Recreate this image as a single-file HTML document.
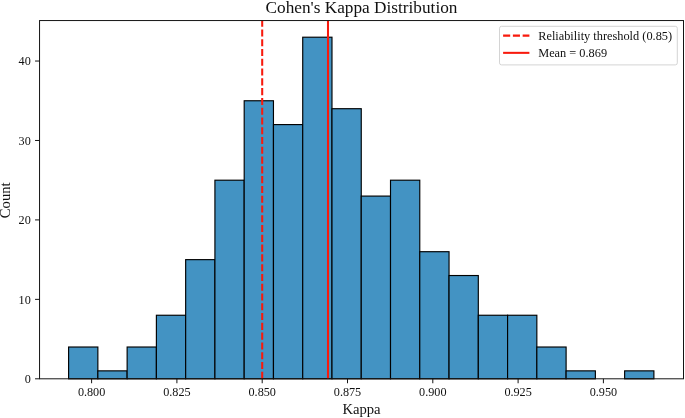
<!DOCTYPE html>
<html lang="en">
<head>
<meta charset="utf-8">
<title>Cohen's Kappa Distribution</title>
<style>
html,body{margin:0;padding:0;background:#fff;}
body{width:685px;height:418px;overflow:hidden;}
svg{display:block;}
svg text{font-family:"Liberation Serif","Times New Roman",serif;fill:#111;}
</style>
</head>
<body>
<svg width="685" height="418" viewBox="0 0 685 418">
<rect x="0" y="0" width="685" height="418" fill="#ffffff"/>
<g fill="#4393c3" stroke="#000000" stroke-width="1.15" stroke-linejoin="miter">
<rect x="68.60" y="347.02" width="29.265" height="31.78"/>
<rect x="97.86" y="370.86" width="29.265" height="7.94"/>
<rect x="127.13" y="347.02" width="29.265" height="31.78"/>
<rect x="156.39" y="315.25" width="29.265" height="63.55"/>
<rect x="185.66" y="259.64" width="29.265" height="119.16"/>
<rect x="214.92" y="180.20" width="29.265" height="198.60"/>
<rect x="244.19" y="100.76" width="29.265" height="278.04"/>
<rect x="273.46" y="124.59" width="29.265" height="254.21"/>
<rect x="302.72" y="37.21" width="29.265" height="341.59"/>
<rect x="331.99" y="108.70" width="29.265" height="270.10"/>
<rect x="361.25" y="196.09" width="29.265" height="182.71"/>
<rect x="390.51" y="180.20" width="29.265" height="198.60"/>
<rect x="419.78" y="251.70" width="29.265" height="127.10"/>
<rect x="449.04" y="275.53" width="29.265" height="103.27"/>
<rect x="478.31" y="315.25" width="29.265" height="63.55"/>
<rect x="507.58" y="315.25" width="29.265" height="63.55"/>
<rect x="536.84" y="347.02" width="29.265" height="31.78"/>
<rect x="566.11" y="370.86" width="29.265" height="7.94"/>
<rect x="624.63" y="370.86" width="29.265" height="7.94"/>
</g>
<line x1="262.20" y1="378.8" x2="262.20" y2="20.55" stroke="#f81a0d" stroke-width="2.05" stroke-dasharray="7.08 2.70"/>
<line x1="328.0" y1="378.8" x2="328.0" y2="20.55" stroke="#f81a0d" stroke-width="2.05"/>
<rect x="39.55" y="20.55" width="643.95" height="358.25" fill="none" stroke="#141414" stroke-width="1"/>
<g stroke="#141414" stroke-width="1">
<line x1="91.60" y1="378.8" x2="91.60" y2="383.25"/>
<line x1="176.90" y1="378.8" x2="176.90" y2="383.25"/>
<line x1="262.20" y1="378.8" x2="262.20" y2="383.25"/>
<line x1="347.50" y1="378.8" x2="347.50" y2="383.25"/>
<line x1="432.80" y1="378.8" x2="432.80" y2="383.25"/>
<line x1="518.10" y1="378.8" x2="518.10" y2="383.25"/>
<line x1="603.40" y1="378.8" x2="603.40" y2="383.25"/>
<line x1="39.55" y1="378.80" x2="35.05" y2="378.80"/>
<line x1="39.55" y1="299.36" x2="35.05" y2="299.36"/>
<line x1="39.55" y1="219.92" x2="35.05" y2="219.92"/>
<line x1="39.55" y1="140.48" x2="35.05" y2="140.48"/>
<line x1="39.55" y1="61.04" x2="35.05" y2="61.04"/>
</g>
<g font-size="12.2" text-anchor="middle">
<text x="91.60" y="395.9">0.800</text>
<text x="176.90" y="395.9">0.825</text>
<text x="262.20" y="395.9">0.850</text>
<text x="347.50" y="395.9">0.875</text>
<text x="432.80" y="395.9">0.900</text>
<text x="518.10" y="395.9">0.925</text>
<text x="603.40" y="395.9">0.950</text>
</g>
<g font-size="12.2" text-anchor="end">
<text x="30.8" y="383.15">0</text>
<text x="30.8" y="303.71">10</text>
<text x="30.8" y="224.27">20</text>
<text x="30.8" y="144.83">30</text>
<text x="30.8" y="65.39">40</text>
</g>
<text x="361.52" y="413.55" font-size="14.65" text-anchor="middle">Kappa</text>
<text transform="translate(10.45 200.28) rotate(-90)" font-size="14.65" text-anchor="middle">Count</text>
<text x="361.52" y="12.85" font-size="17.26" text-anchor="middle">Cohen's Kappa Distribution</text>
<rect x="499.5" y="26.3" width="177.8" height="38.6" rx="2" ry="2" fill="#ffffff" fill-opacity="0.8" stroke="#cfcfcf" stroke-width="0.9"/>
<line x1="503.1" y1="35.6" x2="529.4" y2="35.6" stroke="#f81a0d" stroke-width="2.05" stroke-dasharray="7.08 2.70"/>
<line x1="503.1" y1="52.85" x2="529.4" y2="52.85" stroke="#f81a0d" stroke-width="2.05"/>
<text x="538.2" y="39.75" font-size="12.33">Reliability threshold (0.85)</text>
<text x="538.2" y="57.1" font-size="12.33">Mean = 0.869</text>
</svg>
</body>
</html>
